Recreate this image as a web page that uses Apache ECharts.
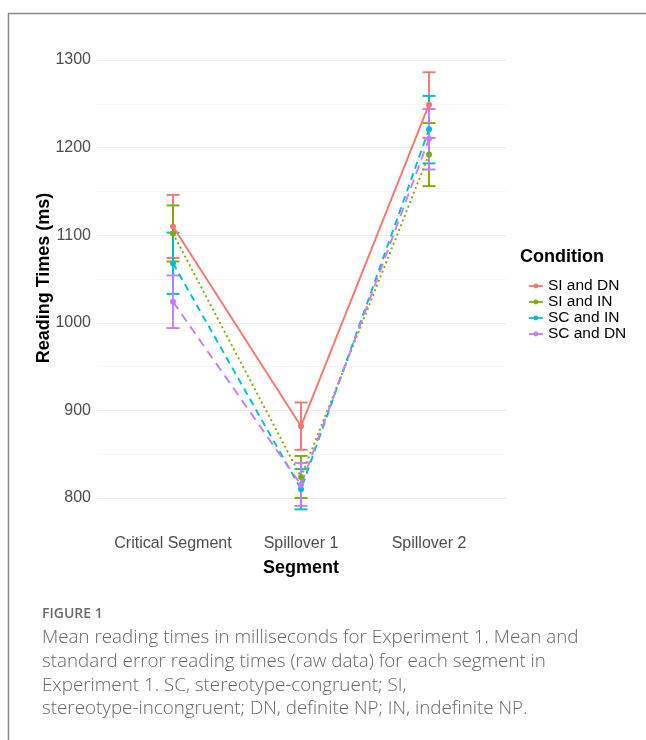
<!DOCTYPE html>
<html>
<head>
<meta charset="utf-8">
<script src="https://cdn.jsdelivr.net/npm/echarts@6/dist/echarts.min.js"></script>
<style>
html,body{margin:0;padding:0;background:#fff;}
#chart{width:646px;height:740px;}
</style>
</head>
<body>
<div id="chart"></div>
<script>
const categories = ['Critical Segment', 'Spillover 1', 'Spillover 2'];
const conditions = ['SI and DN', 'SI and IN', 'SC and IN', 'SC and DN'];
const meanSIDN = [1110, 882, 1249];
const lowSIDN  = [1074, 855, 1211];
const highSIDN = [1146, 909, 1286];
const meanSIIN = [1102, 824, 1192];
const lowSIIN  = [1070, 800, 1156];
const highSIIN = [1134, 848, 1228];
const meanSCIN = [1068, 810, 1221];
const lowSCIN  = [1033, 787, 1182];
const highSCIN = [1103, 833, 1259];
const meanSCDN = [1024, 815, 1210];
const lowSCDN  = [994, 791, 1175];
const highSCDN = [1054, 840, 1244];
const yTicks = [800, 900, 1000, 1100, 1200, 1300];

const means = [meanSIDN, meanSIIN, meanSCIN, meanSCDN];
const lows = [lowSIDN, lowSIIN, lowSCIN, lowSCDN];
const highs = [highSIDN, highSIIN, highSCIN, highSCDN];
const colors = ['#F8766D', '#7CAE00', '#00BFC4', '#C77CFF'];
const dashes = ['solid', [2, 3], [7, 5], [9, 6]];

const chart = echarts.init(document.getElementById('chart'));
const FONT = 'Liberation Sans';

const series = [];
conditions.forEach((c, i) => {
  series.push({
    type: 'custom',
    name: c + ' err',
    xAxisIndex: 1, yAxisIndex: 1,
    clip: false,
    z: 3,
    data: categories.map((_, k) => [k, lows[i][k], highs[i][k]]),
    encode: { x: 0, y: [1, 2] },
    renderItem: function (params, api) {
      const x = api.value(0);
      const lo = api.coord([x, api.value(1)]);
      const hi = api.coord([x, api.value(2)]);
      const hw = 6.5;
      const st = { stroke: colors[i], lineWidth: 1.9 };
      return {
        type: 'group',
        children: [
          { type: 'line', shape: { x1: lo[0], y1: lo[1], x2: hi[0], y2: hi[1] }, style: st },
          { type: 'line', shape: { x1: lo[0] - hw, y1: lo[1], x2: lo[0] + hw, y2: lo[1] }, style: st },
          { type: 'line', shape: { x1: hi[0] - hw, y1: hi[1], x2: hi[0] + hw, y2: hi[1] }, style: st }
        ]
      };
    }
  });
});
conditions.forEach((c, i) => {
  series.push({
    type: 'line',
    name: c,
    xAxisIndex: 1, yAxisIndex: 1,
    clip: false,
    z: 4,
    data: means[i],
    symbol: 'circle',
    symbolSize: 6,
    itemStyle: { color: colors[i] },
    lineStyle: { color: colors[i], width: 1.9, type: dashes[i] },
    emphasis: { disabled: true }
  });
});

chart.setOption({
  animation: false,
  backgroundColor: '#fff',
  grid: [
    { left: 97, width: 409, top: 60, height: 438 },
    { left: 109, width: 384, top: 60, height: 438 }
  ],
  xAxis: [
    { type: 'category', gridIndex: 0, data: categories, show: false },
    {
      type: 'category', gridIndex: 1, data: categories,
      axisLine: { show: false }, axisTick: { show: false },
      splitLine: { show: false },
      axisLabel: { color: '#4d4d4d', fontSize: 16, fontFamily: FONT, margin: 38,
        interval: 0, hideOverlap: false }
    }
  ],
  yAxis: [
    {
      type: 'value', gridIndex: 0, min: 800, max: 1300, interval: 100,
      axisLine: { show: false }, axisTick: { show: false },
      axisLabel: {
        color: '#4d4d4d', fontSize: 16, fontFamily: FONT, margin: 6,
        formatter: v => (yTicks.indexOf(v) >= 0 ? String(v) : '')
      },
      splitLine: { lineStyle: { color: '#ebebeb', width: 1 } },
      minorTick: { show: false, splitNumber: 2 },
      minorSplitLine: { show: true, lineStyle: { color: '#f5f5f5', width: 1 } }
    },
    {
      type: 'value', gridIndex: 1, min: 800, max: 1300, interval: 100, show: false,
      splitLine: { show: false }
    }
  ],
  legend: {
    data: conditions,
    orient: 'vertical',
    left: 523, top: 273,
    itemWidth: 14, itemHeight: 6, itemGap: 0,
    lineStyle: { type: 'solid', width: 1.8 },
    textStyle: { fontSize: 15.5, lineHeight: 15, fontFamily: FONT, color: '#000', padding: [0, 0, 0, 0] },
    selectedMode: false
  },
  graphic: [
    { type: 'rect', shape: { x: 8.5, y: 13.5, width: 700, height: 800 },
      style: { fill: 'none', stroke: '#8a8a8a', lineWidth: 1.5 }, z: 0 },
    { type: 'text', x: 44, y: 278, rotation: Math.PI / 2,
      style: { text: 'Reading Times (ms)', font: 'bold 18px "Liberation Sans"', fill: '#000',
        textAlign: 'center', textVerticalAlign: 'middle' } },
    { type: 'text', x: 301, y: 568,
      style: { text: 'Segment', font: 'bold 18px "Liberation Sans"', fill: '#000',
        textAlign: 'center', textVerticalAlign: 'middle' } },
    { type: 'text', x: 520, y: 257,
      style: { text: 'Condition', font: 'bold 18px "Liberation Sans"', fill: '#000',
        textAlign: 'left', textVerticalAlign: 'middle' } },
    { type: 'text', x: 42, y: 614,
      style: { text: 'FIGURE 1', font: '600 14px "Open Sans"', fill: '#6a6a6a',
        textAlign: 'left', textVerticalAlign: 'middle' } },
    { type: 'text', x: 42, y: 626,
      style: { text: 'Mean reading times in milliseconds for Experiment 1. Mean and\nstandard error reading times (raw data) for each segment in\nExperiment 1. SC, stereotype-congruent; SI,\nstereotype-incongruent; DN, definite NP; IN, indefinite NP.',
        font: '300 18.8px "Open Sans"', lineHeight: 23.7, fill: '#666',
        textAlign: 'left', textVerticalAlign: 'top' } }
  ],
  series: series
});
</script>
</body>
</html>
